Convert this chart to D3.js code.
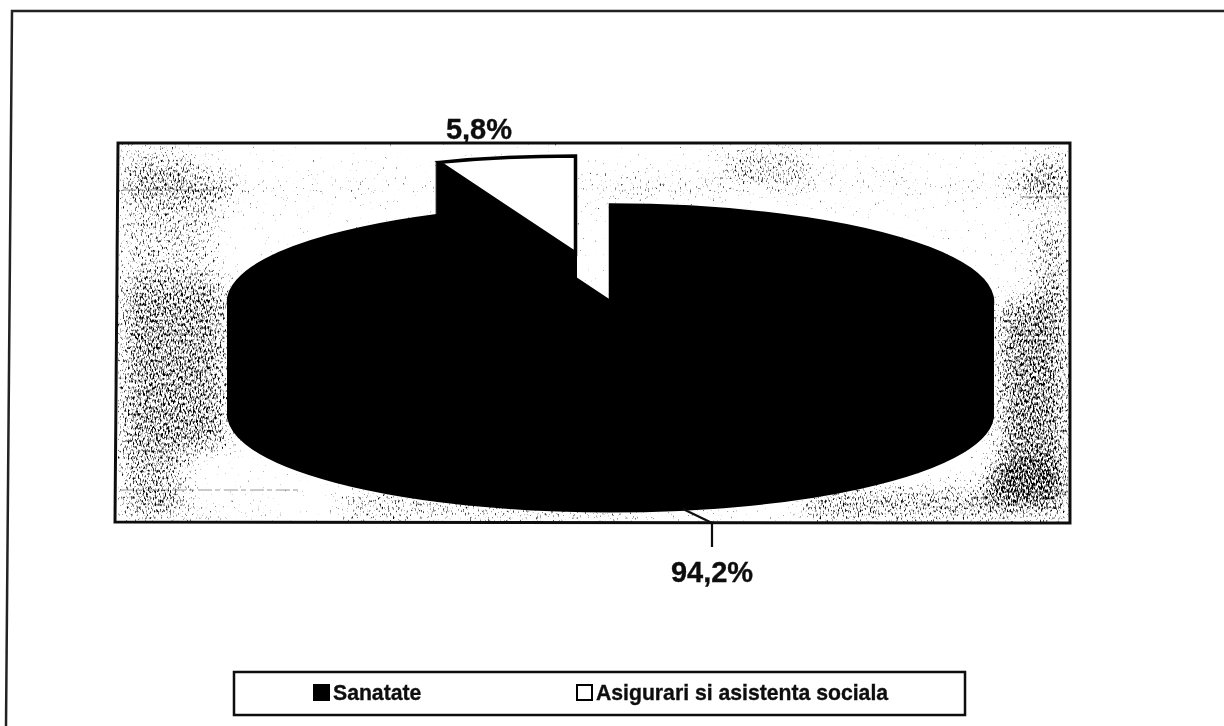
<!DOCTYPE html>
<html>
<head>
<meta charset="utf-8">
<script src="https://cdn.jsdelivr.net/npm/d3@7"></script>
<style>
  html, body { margin: 0; padding: 0; background: #fff; overflow: hidden; }
  text { font-family: "Liberation Sans", Arial, sans-serif; font-weight: bold; fill: #111; stroke: #111; stroke-width: 0.35px; }
</style>
</head>
<body>
<div id="chart"></div>
<script>
// data
var categories = ["Sanatate", "Asigurari si asistenta sociala"];
var shares = [94.2, 5.8];
var shareLabels = ["94,2%", "5,8%"];
var sliceColors = ["#000", "#fff"];

// speckle density of the scanned plot background: x, y, w, h, strength
var speckle = [
  [118, 145, 80, 30, 0.34], [118, 172, 120, 32, 0.48], [118, 205, 100, 75, 0.34],
  [118, 280, 112, 175, 0.52], [118, 455, 70, 65, 0.44],
  [120, 505, 150, 15, 0.26], [340, 490, 300, 30, 0.4], [640, 508, 100, 12, 0.28],
  [800, 490, 270, 30, 0.54], [985, 465, 85, 30, 0.66],
  [995, 300, 75, 170, 0.56], [1030, 215, 40, 90, 0.44], [1015, 172, 55, 30, 0.56],
  [1030, 145, 40, 30, 0.36], [720, 146, 90, 45, 0.38], [580, 178, 140, 18, 0.36],
  [240, 183, 200, 12, 0.26], [800, 178, 220, 14, 0.28]
];

var width = 1224;
var height = 726;

var cx = 610.5, cy = 302; // centre of the pie top
var rx = 382, ry = 97;
var depth = 112;
var explode = { x: -35, y: -49 };

var svg = d3
  .select("#chart")
  .append("svg")
  .attr("width", width)
  .attr("height", height)
  .attr("viewBox", [0, 0, width, height])
  .style("display", "block");

var defs = svg.append("defs");

defs
  .append("filter")
  .attr("id", "soft")
  .attr("x", "-5%")
  .attr("y", "-5%")
  .attr("width", "110%")
  .attr("height", "110%")
  .append("feGaussianBlur")
  .attr("stdDeviation", 12);

// noise + density, then a hard threshold -> halftone looking specks
var grain = defs
  .append("filter")
  .attr("id", "grain")
  .attr("filterUnits", "userSpaceOnUse")
  .attr("x", 118)
  .attr("y", 143)
  .attr("width", 952)
  .attr("height", 380)
  .attr("color-interpolation-filters", "sRGB");
grain
  .append("feTurbulence")
  .attr("type", "fractalNoise")
  .attr("baseFrequency", "0.6 0.3")
  .attr("numOctaves", 2)
  .attr("seed", 7)
  .attr("result", "noise");
grain
  .append("feColorMatrix")
  .attr("in", "noise")
  .attr("type", "matrix")
  .attr("values", "0 0 0 0 0  0 0 0 0 0  0 0 0 0 0  1 0 0 0 0")
  .attr("result", "noiseA");
grain
  .append("feComposite")
  .attr("in", "noiseA")
  .attr("in2", "SourceGraphic")
  .attr("operator", "arithmetic")
  .attr("k1", 0)
  .attr("k2", 4.2)
  .attr("k3", 2.4)
  .attr("k4", -3.15)
  .attr("result", "specks");
grain
  .append("feGaussianBlur")
  .attr("in", "specks")
  .attr("stdDeviation", 0.6);

defs
  .append("filter")
  .attr("id", "scan")
  .append("feGaussianBlur")
  .attr("stdDeviation", 0.5);

var page = svg.append("g").attr("filter", "url(#scan)");

// outer frame, slightly skewed like the scan
page
  .append("path")
  .attr("d", d3.line()([[6, 726], [12, 11], [1224, 11]]))
  .attr("fill", "none")
  .attr("stroke", "#222")
  .attr("stroke-width", 2.5);

// plot area
var plotBox = [[118, 143], [1070, 143], [1070, 523], [115, 522]];

page
  .append("path")
  .attr("d", d3.line().curve(d3.curveLinearClosed)(plotBox))
  .attr("fill", "#fff");

page
  .append("g")
  .attr("filter", "url(#grain)")
  .append("g")
  .attr("filter", "url(#soft)")
  .selectAll("rect")
  .data(speckle)
  .join("rect")
  .attr("x", function(d) { return d[0]; })
  .attr("y", function(d) { return d[1]; })
  .attr("width", function(d) { return d[2]; })
  .attr("height", function(d) { return d[3]; })
  .attr("fill", "#000")
  .attr("fill-opacity", function(d) { return d[4]; });

// thin dashed scan lines in the background
page
  .append("path")
  .attr("d", "M120,490H300M1005,492H1068M1020,197H1068M122,190H215")
  .attr("stroke", "#333")
  .attr("stroke-width", 1)
  .attr("stroke-dasharray", "14 3 5 4")
  .attr("opacity", 0.5);

page
  .append("path")
  .attr("d", d3.line().curve(d3.curveLinearClosed)(plotBox))
  .attr("fill", "none")
  .attr("stroke", "#111")
  .attr("stroke-width", 3);

// pie
var pie = d3.pie().sort(null).value(function(d) { return d; });
var slices = pie(shares);
var arc = d3.arc().innerRadius(0).outerRadius(rx);

var pieG = page.append("g");

// each slice is the top arc, stacked down by the depth for the side wall
function drawSlice(slice, i) {
  var off = i == 1 ? explode : { x: 0, y: 0 };
  var wall = pieG.append("g");
  wall
    .selectAll("path")
    .data(d3.range(depth, 0, -1))
    .join("path")
    .attr("d", arc(slice))
    .attr("transform", function(d) {
      return "translate(" + (cx + off.x) + "," + (cy + off.y + d) + ") scale(1," + ry / rx + ")";
    })
    .attr("fill", "#000")
    .attr("stroke", "#000")
    .attr("stroke-width", 3)
    .attr("vector-effect", "non-scaling-stroke");
}

slices.forEach(drawSlice);

pieG
  .selectAll(".top")
  .data(slices)
  .join("path")
  .attr("class", "top")
  .attr("d", arc)
  .attr("transform", function(d, i) {
    var off = i == 1 ? explode : { x: 0, y: 0 };
    return "translate(" + (cx + off.x) + "," + (cy + off.y) + ") scale(1," + ry / rx + ")";
  })
  .attr("fill", function(d, i) { return sliceColors[i]; })
  .attr("stroke", "#000")
  .attr("stroke-width", 3.5)
  .attr("vector-effect", "non-scaling-stroke");

// leader for the big slice
page
  .append("path")
  .attr("d", "M683,509L712,523V547")
  .attr("fill", "none")
  .attr("stroke", "#111")
  .attr("stroke-width", 2.2);

// value labels
var labelPos = [[712, 582], [479, 139]];

page
  .selectAll(".share")
  .data(shareLabels)
  .join("text")
  .attr("class", "share")
  .attr("x", function(d, i) { return labelPos[i][0]; })
  .attr("y", function(d, i) { return labelPos[i][1]; })
  .attr("text-anchor", "middle")
  .style("font-size", "29px")
  .text(function(d) { return d; });

// legend
page
  .append("rect")
  .attr("x", 234)
  .attr("y", 672)
  .attr("width", 731)
  .attr("height", 43)
  .attr("fill", "#fff")
  .attr("stroke", "#111")
  .attr("stroke-width", 2.5);

var legendX = d3.scalePoint().domain(categories).range([314, 577]);

var legend = page
  .selectAll(".legend-item")
  .data(categories)
  .join("g")
  .attr("class", "legend-item")
  .attr("transform", function(d) { return "translate(" + legendX(d) + ",685)"; });

legend
  .append("rect")
  .attr("width", 15)
  .attr("height", 15)
  .attr("fill", function(d, i) { return sliceColors[i]; })
  .attr("stroke", "#000")
  .attr("stroke-width", 2);

legend
  .append("text")
  .attr("x", 19)
  .attr("y", 15)
  .style("font-size", "21.2px")
  .text(function(d) { return d; });
</script>
</body>
</html>
